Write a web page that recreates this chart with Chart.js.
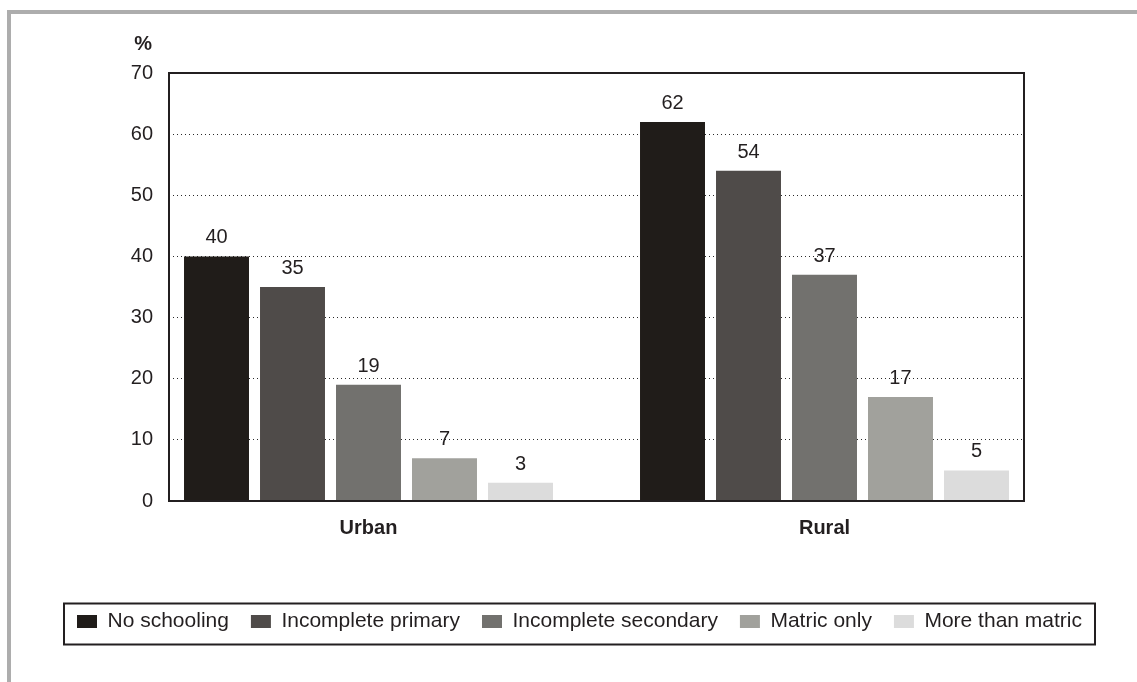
<!DOCTYPE html>
<html>
<head>
<meta charset="utf-8">
<title>Educational attainment, urban and rural</title>
<script src="https://cdn.jsdelivr.net/npm/chart.js@4/dist/chart.umd.min.js"></script>
<style>
  html, body { margin: 0; padding: 0; background: #ffffff; }
  #wrap { position: relative; width: 1137px; height: 682px; overflow: hidden; }
  #wrap canvas { position: absolute; left: 0; top: 0; }
  #frame {
    position: absolute; left: 7px; top: 10px; right: -10px; bottom: -10px;
    border-top: 4px solid #adadad; border-left: 4px solid #adadad;
    pointer-events: none;
  }
</style>
</head>
<body>
<div id="wrap">
  <canvas id="chart" width="1137" height="682"></canvas>
  <div id="frame"></div>
</div>
<script>
// Share of people (%) by highest level of schooling
const categories = ['Urban', 'Rural'];
const seriesNames = ['No schooling', 'Incomplete primary', 'Incomplete secondary', 'Matric only', 'More than matric'];
const noSchooling = [40, 62];
const incompletePrimary = [35, 54];
const incompleteSecondary = [19, 37];
const matricOnly = [7, 17];
const moreThanMatric = [3, 5];
const yTicks = [0, 10, 20, 30, 40, 50, 60, 70];

const seriesValues = [noSchooling, incompletePrimary, incompleteSecondary, matricOnly, moreThanMatric];
const seriesColors = ['#201c19', '#4f4b49', '#72716e', '#a1a19c', '#dcdcdc'];

const FONT = "'Liberation Sans', Arial, sans-serif";
const INK = '#231f20';

// Plot frame, value labels, the "%" unit caption and the box around the legend
const decorations = {
  id: 'decorations',
  afterDatasetsDraw(chart) {
    const ctx = chart.ctx;
    const a = chart.chartArea;
    ctx.save();
    ctx.fillStyle = INK;
    ctx.font = '20px ' + FONT;
    ctx.textAlign = 'center';
    ctx.textBaseline = 'alphabetic';
    chart.data.datasets.forEach((ds, i) => {
      chart.getDatasetMeta(i).data.forEach((el, j) => {
        ctx.fillText(String(ds.data[j].y), el.x, el.y - 13);
      });
    });
    ctx.strokeStyle = INK;
    ctx.lineWidth = 2;
    ctx.strokeRect(a.left, a.top, a.right - a.left, a.bottom - a.top);
    ctx.font = 'bold 20px ' + FONT;
    ctx.textAlign = 'right';
    ctx.fillText('%', a.left - 17, a.top - 23);
    ctx.restore();
  },
  afterDraw(chart) {
    const lg = chart.legend;
    if (!lg || !lg.legendHitBoxes || !lg.legendHitBoxes.length) return;
    const hb = lg.legendHitBoxes;
    const first = hb[0], last = hb[hb.length - 1];
    const cy = first.top + first.height / 2;
    const ctx = chart.ctx;
    ctx.save();
    ctx.strokeStyle = INK;
    ctx.lineWidth = 2;
    const left = first.left - 13, right = last.left + last.width + 13;
    ctx.strokeRect(left, cy - 18, right - left, 41);
    ctx.restore();
  }
};

new Chart(document.getElementById('chart'), {
  type: 'bar',
  data: {
    datasets: seriesNames.map((name, i) => ({
      label: name,
      data: categories.map((c, j) => ({ x: j, y: seriesValues[i][j] })),
      backgroundColor: seriesColors[i],
      borderWidth: 0,
      categoryPercentage: 0.8333,
      barPercentage: 0.855
    }))
  },
  options: {
    responsive: false,
    animation: false,
    devicePixelRatio: 1,
    layout: { padding: { left: 22, top: 73, right: 0, bottom: 40 } },
    plugins: {
      tooltip: { enabled: false },
      legend: {
        position: 'bottom',
        align: 'center',
        labels: {
          boxWidth: 20,
          boxHeight: 13,
          padding: 22,
          color: INK,
          font: { family: FONT, size: 21 }
        }
      }
    },
    scales: {
      x: {
        type: 'linear',
        offset: false,
        min: -0.4375,
        max: 1.4375,
        afterBuildTicks(scale) { scale.ticks = categories.map((c, j) => ({ value: j })); },
        afterFit(scale) { scale.height = 88; },
        grid: { display: false, drawTicks: false, offset: false },
        border: { display: false },
        ticks: {
          padding: 15,
          color: INK,
          font: { family: FONT, size: 20, weight: 'bold' },
          callback: (v) => categories[v]
        }
      },
      y: {
        min: 0,
        max: 70,
        afterBuildTicks(scale) { scale.ticks = yTicks.map(v => ({ value: v })); },
        afterFit(scale) { scale.width = 147; },
        grid: {
          color: (c) => (c.tick && (c.tick.value === 0 || c.tick.value === 70)) ? 'rgba(0,0,0,0)' : '#2a2a2a',
          lineWidth: 1,
          drawTicks: false
        },
        border: { display: false, dash: [1, 3] },
        ticks: {
          padding: 16,
          color: INK,
          font: { family: FONT, size: 20 }
        }
      },
      yRight: {
        position: 'right',
        min: 0,
        max: 70,
        afterFit(scale) { scale.width = 113; },
        grid: { display: false, drawTicks: false },
        border: { display: false },
        ticks: { display: false }
      }
    }
  },
  plugins: [decorations]
});
</script>
</body>
</html>
